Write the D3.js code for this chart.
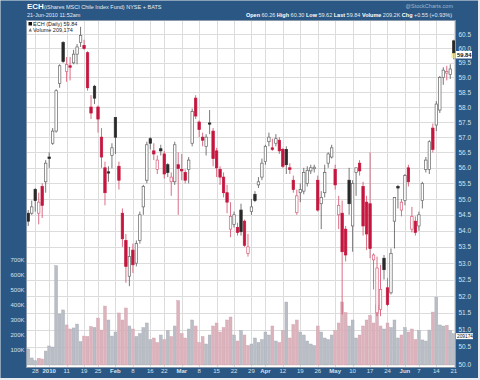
<!DOCTYPE html>
<html><head><meta charset="utf-8">
<script src="https://cdn.jsdelivr.net/npm/d3@7"></script>
<style>html,body{margin:0;padding:0;background:#fff;}svg{display:block;font-family:"Liberation Sans",Arial,sans-serif;}</style>
</head><body><svg id="c" width="480" height="380"></svg>
<script>
const dates = ["2009-12-23","2009-12-24","2009-12-28","2009-12-29","2009-12-30","2009-12-31",
"2010-01-04","2010-01-05","2010-01-06","2010-01-07","2010-01-08","2010-01-11","2010-01-12","2010-01-13","2010-01-14","2010-01-15",
"2010-01-19","2010-01-20","2010-01-21","2010-01-22","2010-01-25","2010-01-26","2010-01-27","2010-01-28","2010-01-29",
"2010-02-01","2010-02-02","2010-02-03","2010-02-04","2010-02-05","2010-02-08","2010-02-09","2010-02-10","2010-02-11","2010-02-12",
"2010-02-16","2010-02-17","2010-02-18","2010-02-19","2010-02-22","2010-02-23","2010-02-24","2010-02-25","2010-02-26",
"2010-03-01","2010-03-02","2010-03-03","2010-03-04","2010-03-05","2010-03-08","2010-03-09","2010-03-10","2010-03-11","2010-03-12",
"2010-03-15","2010-03-16","2010-03-17","2010-03-18","2010-03-19","2010-03-22","2010-03-23","2010-03-24","2010-03-25","2010-03-26",
"2010-03-29","2010-03-30","2010-03-31","2010-04-01","2010-04-05","2010-04-06","2010-04-07","2010-04-08","2010-04-09",
"2010-04-12","2010-04-13","2010-04-14","2010-04-15","2010-04-16","2010-04-19","2010-04-20","2010-04-21","2010-04-22","2010-04-23",
"2010-04-26","2010-04-27","2010-04-28","2010-04-29","2010-04-30","2010-05-03","2010-05-04","2010-05-05","2010-05-06","2010-05-07",
"2010-05-10","2010-05-11","2010-05-12","2010-05-13","2010-05-14","2010-05-17","2010-05-18","2010-05-19","2010-05-20","2010-05-21",
"2010-05-24","2010-05-25","2010-05-26","2010-05-27","2010-05-28","2010-06-01","2010-06-02","2010-06-03","2010-06-04",
"2010-06-07","2010-06-08","2010-06-09","2010-06-10","2010-06-11","2010-06-14","2010-06-15","2010-06-16","2010-06-17","2010-06-18","2010-06-21"];

const open = [54.55,54.55,55.30,54.55,55.40,55.55,56.35,56.80,57.20,58.80,60.20,59.20,59.40,59.50,59.80,60.20,60.10,59.85,58.00,58.70,
58.00,57.00,56.00,55.87,56.40,57.65,56.05,54.55,53.70,52.60,53.40,53.00,53.70,54.75,55.60,56.95,56.55,55.95,56.62,56.45,
56.10,55.55,55.55,56.10,55.95,55.85,55.95,56.80,58.30,57.50,57.00,56.70,57.47,57.20,56.55,55.95,55.70,55.20,54.05,54.20,
54.10,54.65,54.30,53.30,54.60,55.15,55.45,55.70,56.20,56.85,56.65,56.80,56.90,56.60,56.60,56.00,55.60,54.57,55.20,55.25,
55.50,55.90,55.97,55.60,54.85,55.20,56.15,56.35,55.95,54.50,54.55,54.05,55.60,54.15,55.85,56.15,55.40,54.90,54.85,53.10,
51.50,51.60,53.15,52.25,52.10,54.30,55.40,54.65,54.95,56.00,54.05,54.30,54.15,54.95,55.95,55.95,57.30,57.40,57.90,59.00,
59.15,59.10,60.26];
const high = [54.65,54.95,55.35,55.20,55.50,56.25,56.50,57.30,58.60,59.45,60.25,59.70,59.70,59.95,60.15,60.75,60.30,59.90,58.40,58.75,
58.05,57.30,56.20,56.05,56.80,57.65,56.20,54.70,53.90,53.50,53.60,53.70,54.60,55.45,56.85,57.00,56.80,56.40,56.75,56.55,
56.15,55.85,56.85,56.50,56.45,55.95,56.35,57.95,58.40,57.55,57.15,57.10,57.90,57.30,56.65,56.05,55.85,55.45,54.90,54.60,
54.25,54.85,54.35,53.90,55.00,55.25,55.70,56.30,56.75,57.15,56.95,57.10,57.00,56.65,56.70,56.15,55.75,55.30,55.50,56.00,
56.05,56.10,56.10,55.75,55.25,56.10,56.50,56.75,56.10,55.10,54.95,54.15,56.00,55.60,56.00,56.25,55.55,55.10,56.50,53.30,
53.20,52.95,53.25,52.55,53.45,55.05,55.45,55.00,55.80,56.10,54.75,54.45,54.60,55.55,56.35,56.90,57.45,58.20,59.05,59.35,
59.40,59.45,60.30];
const low = [54.15,54.50,54.60,54.20,54.40,55.20,56.00,56.75,57.15,58.65,59.50,58.85,58.90,59.45,59.45,60.05,59.95,58.55,57.60,58.10,
57.15,56.00,54.80,55.55,55.98,56.45,55.30,53.50,52.40,52.30,52.70,52.90,53.60,54.50,55.50,56.60,56.25,55.80,56.40,55.65,
55.70,55.10,55.45,54.50,55.60,55.50,55.50,56.70,57.60,57.00,56.70,56.40,57.10,56.05,55.70,55.45,55.05,54.55,53.80,54.10,
53.85,53.85,53.50,53.20,54.50,54.90,55.35,55.60,56.10,56.70,56.55,56.70,56.45,56.00,55.80,55.80,55.20,54.50,54.90,55.15,
55.40,55.80,55.85,54.60,54.05,55.05,56.00,56.30,55.30,54.05,51.45,53.05,54.50,53.35,55.10,55.75,53.85,53.40,53.15,52.20,
51.40,51.40,52.50,51.70,52.05,53.45,54.70,54.45,54.80,55.40,53.95,53.85,54.00,54.70,55.85,55.80,56.50,57.20,57.80,58.75,
58.90,58.95,59.62];
const close = [54.30,54.75,54.95,54.90,54.80,56.15,56.30,57.20,58.55,59.40,59.55,59.45,59.35,59.80,60.05,60.45,60.00,58.65,57.80,58.30,
57.60,56.35,55.20,55.83,56.65,57.00,55.60,53.75,52.90,53.20,52.95,53.60,54.50,55.40,56.75,56.80,56.45,56.25,56.55,55.80,
55.85,55.70,56.75,55.98,55.90,55.60,56.25,57.85,57.70,57.25,56.90,57.00,57.43,56.30,56.00,55.70,55.20,54.90,54.45,54.50,
53.95,53.97,53.55,53.50,54.75,54.95,55.55,56.15,56.70,57.00,56.60,56.95,56.55,56.05,56.10,55.95,55.30,55.10,55.30,55.85,
55.92,56.00,56.02,54.65,55.05,55.85,56.45,56.65,55.45,54.80,53.35,53.25,54.85,55.50,56.00,55.90,54.15,53.90,53.45,53.25,
52.85,52.20,52.80,51.75,53.30,55.05,55.35,54.90,55.75,55.55,54.45,53.95,54.50,55.50,56.25,56.85,56.60,58.10,59.00,59.25,
59.20,59.29,59.84];
const volume = [107,47,29,45,40,93,127,120,662,340,367,267,240,247,273,156,193,190,256,250,
313,233,393,300,193,220,347,300,380,260,240,190,210,250,280,170,180,150,200,170,
230,190,260,430,210,180,240,300,260,150,190,140,200,260,280,220,250,300,320,200,
160,230,200,130,140,180,150,170,220,200,260,160,150,230,420,180,270,300,220,200,
160,140,130,260,220,180,170,200,230,280,420,350,260,300,180,200,260,300,330,280,
400,260,240,280,250,300,180,200,250,220,240,170,230,167,160,233,353,453,267,260,
265,230,209];

const tickDates = ["2009-12-28","2010-01-04","2010-01-11","2010-01-19","2010-01-25","2010-02-01","2010-02-08","2010-02-16","2010-02-22",
"2010-03-01","2010-03-08","2010-03-15","2010-03-22","2010-03-29","2010-04-05","2010-04-12","2010-04-19","2010-04-26",
"2010-05-03","2010-05-10","2010-05-17","2010-05-24","2010-06-01","2010-06-07","2010-06-14","2010-06-21"];
const tickLabels = ["28","2010","11","19","25","Feb","8","16","22","Mar","8","15","22","29","Apr","12","19","26","May","10","17","24","Jun","7","14","21"];
const boldTicks = ["2010","Feb","Mar","Apr","May","Jun"];
const priceTicks = [50.0,50.5,51.0,51.5,52.0,52.5,53.0,53.5,54.0,54.5,55.0,55.5,56.0,56.5,57.0,57.5,58.0,58.5,59.0,59.5,60.0,60.5];
const volTicks = [100,200,300,400,500,600,700];
const volTickLabels = ["100K","200K","300K","400K","500K","600K","700K"];

const svg = d3.select("#c");
const L = 26.5, R = 455.5, T = 20.5, B = 367.5;
const FRAME = "#2a5783";

svg.append("rect").attr("x",0).attr("y",0).attr("width",480).attr("height",380).attr("fill","#e9ecef");
svg.append("rect").attr("x",0.5).attr("y",0.5).attr("width",477.5).attr("height",377.5).attr("fill",FRAME);
svg.append("rect").attr("x",L).attr("y",T).attr("width",R-L).attr("height",B-T).attr("fill","#fff");

const x = d3.scaleBand().domain(dates).range([L, R]).paddingInner(0.3).paddingOuter(0.15);
const cx = d => x(d) + x.bandwidth()/2;
const y = d3.scaleLog().domain([50, 60.5]).range([364, 34]);
const yv = d3.scaleLinear().domain([0, 700]).range([365, 260]);

// grid
const grid = svg.append("g");
grid.selectAll("line.h").data(priceTicks).join("line")
  .attr("x1",L).attr("x2",R).attr("y1",d=>Math.round(y(d))+0.5).attr("y2",d=>Math.round(y(d))+0.5)
  .attr("stroke","#dcdcdc").attr("stroke-width",1);
grid.selectAll("line.v").data(tickDates).join("line")
  .attr("y1",T).attr("y2",B).attr("x1",d=>Math.round(cx(d))+0.5).attr("x2",d=>Math.round(cx(d))+0.5)
  .attr("stroke","#dcdcdc").attr("stroke-width",1);

const rows = dates.map((d,i)=>({d, o:open[i], h:high[i], l:low[i], c:close[i], v:volume[i],
  up: i===0 ? true : close[i] >= close[i-1], hollow: close[i] > open[i]}));

// volume bars
const step = x.step();
svg.append("g").selectAll("rect").data(rows).join("rect")
  .attr("x", r => cx(r.d) - step/2 + 0.3).attr("width", step - 0.6)
  .attr("y", r => yv(r.v)).attr("height", r => yv(0) - yv(r.v))
  .attr("fill", r => r.up ? "#b9bdc5" : "#dcb3bc")
  .attr("stroke", r => r.up ? "#a4a8b0" : "#cf9fab").attr("stroke-width",0.4);

// candles
const colOf = r => r.up ? "#2a2a2a" : "#c4163e";
const cg = svg.append("g");
cg.selectAll("line").data(rows).join("line")
  .attr("x1", r=>cx(r.d)).attr("x2", r=>cx(r.d)).attr("y1", r=>y(r.h)).attr("y2", r=>y(r.l))
  .attr("stroke", r => r.up ? "#555" : "#d04a68").attr("stroke-width",0.8);
const bw = x.bandwidth();
cg.selectAll("rect").data(rows).join("rect")
  .attr("x", r=>cx(r.d)-bw/2).attr("width", bw)
  .attr("y", r=>y(Math.max(r.o,r.c))).attr("height", r=>Math.max(1, Math.abs(y(r.o)-y(r.c))))
  .attr("fill", r => r.hollow ? "#fff" : colOf(r))
  .attr("stroke", r => r.hollow ? (r.up ? "#666" : "#d8607c") : colOf(r)).attr("stroke-width",0.7);

// plot border
svg.append("rect").attr("x",L).attr("y",T).attr("width",R-L).attr("height",B-T).attr("fill","none").attr("stroke","#8a9aaa").attr("stroke-width",1);

// right price axis
const ra = svg.append("g").attr("transform",`translate(${R},0)`)
  .call(d3.axisRight(y).tickValues(priceTicks).tickFormat(d3.format(".1f")).tickSize(0).tickPadding(3));
ra.select(".domain").remove();
ra.selectAll("text").attr("fill","#d6e2ee").attr("font-size",6.5).attr("font-family","Liberation Sans, Arial");

// left volume axis
const la = svg.append("g").attr("transform",`translate(${L},0)`)
  .call(d3.axisLeft(yv).tickValues(volTicks).tickFormat((d,i)=>volTickLabels[i]).tickSize(0).tickPadding(2));
la.select(".domain").remove();
la.selectAll("text").attr("fill","#d6e2ee").attr("font-size",6).attr("font-family","Liberation Sans, Arial");

// bottom date axis
const ba = svg.append("g").attr("transform",`translate(0,${B})`)
  .call(d3.axisBottom(x).tickValues(tickDates).tickFormat((d,i)=>tickLabels[i]).tickSize(0).tickPadding(1.5));
ba.select(".domain").remove();
ba.selectAll("text").attr("fill","#d6e2ee").attr("font-size",6).attr("font-family","Liberation Sans, Arial")
  .attr("font-weight", function(){ return boldTicks.includes(this.textContent) ? "bold" : "normal"; });

// last price marker & volume marker
const last = rows[rows.length-1];
svg.append("rect").attr("x",cx(last.d)-2.5).attr("y",y(last.c)).attr("width",5).attr("height",5).attr("fill","#f3e36a").attr("opacity",0.6);
svg.append("rect").attr("x",R+0.5).attr("y",y(last.c)-2).attr("width",16).attr("height",7.5).attr("fill","#fff");
svg.append("text").attr("x",R+1.5).attr("y",y(last.c)+3.8).attr("font-size",5.8).attr("font-weight","bold").attr("fill","#111").text(last.c.toFixed(2));
svg.append("rect").attr("x",R+0.5).attr("y",yv(last.v)-0.5).attr("width",17).attr("height",6).attr("fill","#fff");
svg.append("text").attr("x",R+1.5).attr("y",yv(last.v)+4.3).attr("font-size",4.8).attr("fill","#111").text("209174");

// header
const hd = svg.append("g").attr("fill","#fff").attr("font-family","Liberation Sans, Arial");
hd.append("text").attr("x",27).attr("y",9).attr("font-size",8).attr("font-weight","bold").text("ECH");
hd.append("text").attr("x",44).attr("y",8.5).attr("font-size",5.5).attr("fill","#e4ecf4").text("(iShares MSCI Chile Index Fund) NYSE + BATS");
hd.append("text").attr("x",27).attr("y",16.5).attr("font-size",5.5).attr("fill","#e4ecf4").text("21-Jun-2010 11:52am");
hd.append("text").attr("x",453).attr("y",7.5).attr("font-size",5.5).attr("text-anchor","end").attr("fill","#9fb8d2").text("@StockCharts.com");
const info = hd.append("text").attr("x",452).attr("y",16.5).attr("font-size",5.5).attr("text-anchor","end");
[["Open"," 60.26  "],["High"," 60.30  "],["Low"," 59.62  "],["Last"," 59.84  "],["Volume"," 209.2K  "],["Chg"," +0.55 (+0.93%)"]]
  .forEach(([k,v])=>{ info.append("tspan").attr("font-weight","bold").text(k); info.append("tspan").attr("fill","#e4ecf4").text(v); });

// legend
const lg = svg.append("g").attr("font-family","Liberation Sans, Arial").attr("font-size",5.5).attr("fill","#222");
lg.append("rect").attr("x",28.5).attr("y",22).attr("width",3.5).attr("height",3.5).attr("fill","#111");
lg.append("text").attr("x",33).attr("y",26).text("ECH (Daily) 59.84");
lg.append("path").attr("d","M28.5,31.5 L30.3,28 L32,31.5 Z").attr("fill","#777");
lg.append("text").attr("x",33).attr("y",32).text("Volume 209,174");
</script></body></html>
